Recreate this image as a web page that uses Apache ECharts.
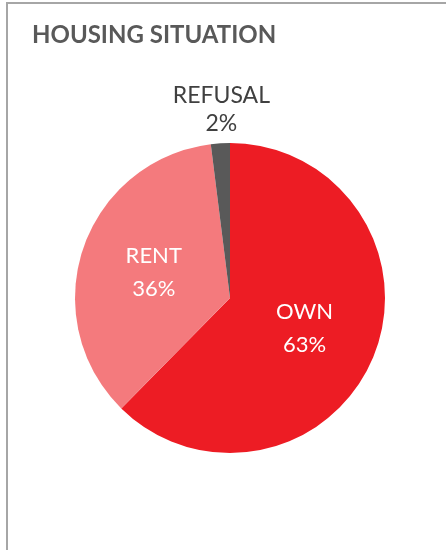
<!DOCTYPE html>
<html>
<head>
<meta charset="utf-8">
<script src="https://cdn.jsdelivr.net/npm/echarts@6/dist/echarts.min.js"></script>
<style>
  html, body { margin: 0; padding: 0; background: #fff; }
  #chart { width: 446px; height: 550px; }
</style>
</head>
<body>
<div id="chart"></div>
<script>
// 住房情况数据
const categories = ["OWN", "RENT", "REFUSAL"];
const values = [63, 36, 2];
const colors = ["#ED1C24", "#F47A7D", "#595959"];

let myChart = echarts.init(document.getElementById("chart"));
let data = [];
for (let i = 0; i < categories.length; i++) {
    data.push({
        name: categories[i],
        value: values[i],
        itemStyle: { color: colors[i] }
    });
}
// REFUSAL 标签放在扇区外面
data[2].label = {
    position: "outside",
    color: "#404040",
    fontSize: 23,
    lineHeight: 28
};
data[2].labelLine = { show: false };

let option = {
    animation: false,
    graphic: [{
        type: "rect",
        shape: { x: 7, y: 3, width: 520, height: 620 },
        style: { fill: "none", stroke: "#A6A6A6", lineWidth: 2 },
        silent: true
    }],
    title: {
        text: "HOUSING SITUATION",
        left: 27,
        top: 18,
        textStyle: {
            fontFamily: "Lato",
            fontWeight: "bold",
            fontSize: 24,
            color: "#595959"
        }
    },
    series: [{
        type: "pie",
        center: [230, 298],
        radius: 155,
        startAngle: 90,
        clockwise: true,
        label: {
            show: true,
            position: "inside",
            formatter: "{b}\n{c}%",
            fontFamily: "Lato",
            fontSize: 22,
            lineHeight: 33,
            color: "#fff"
        },
        labelLayout: function (params) {
            if (params.dataIndex === 2) {
                return {
                    x: params.rect.x + params.rect.width / 2 + 1,
                    y: params.rect.y - 5,
                    align: "center",
                    verticalAlign: "bottom"
                };
            }
        },
        emphasis: { disabled: true },
        data: data
    }]
};
myChart.setOption(option);
</script>
</body>
</html>
